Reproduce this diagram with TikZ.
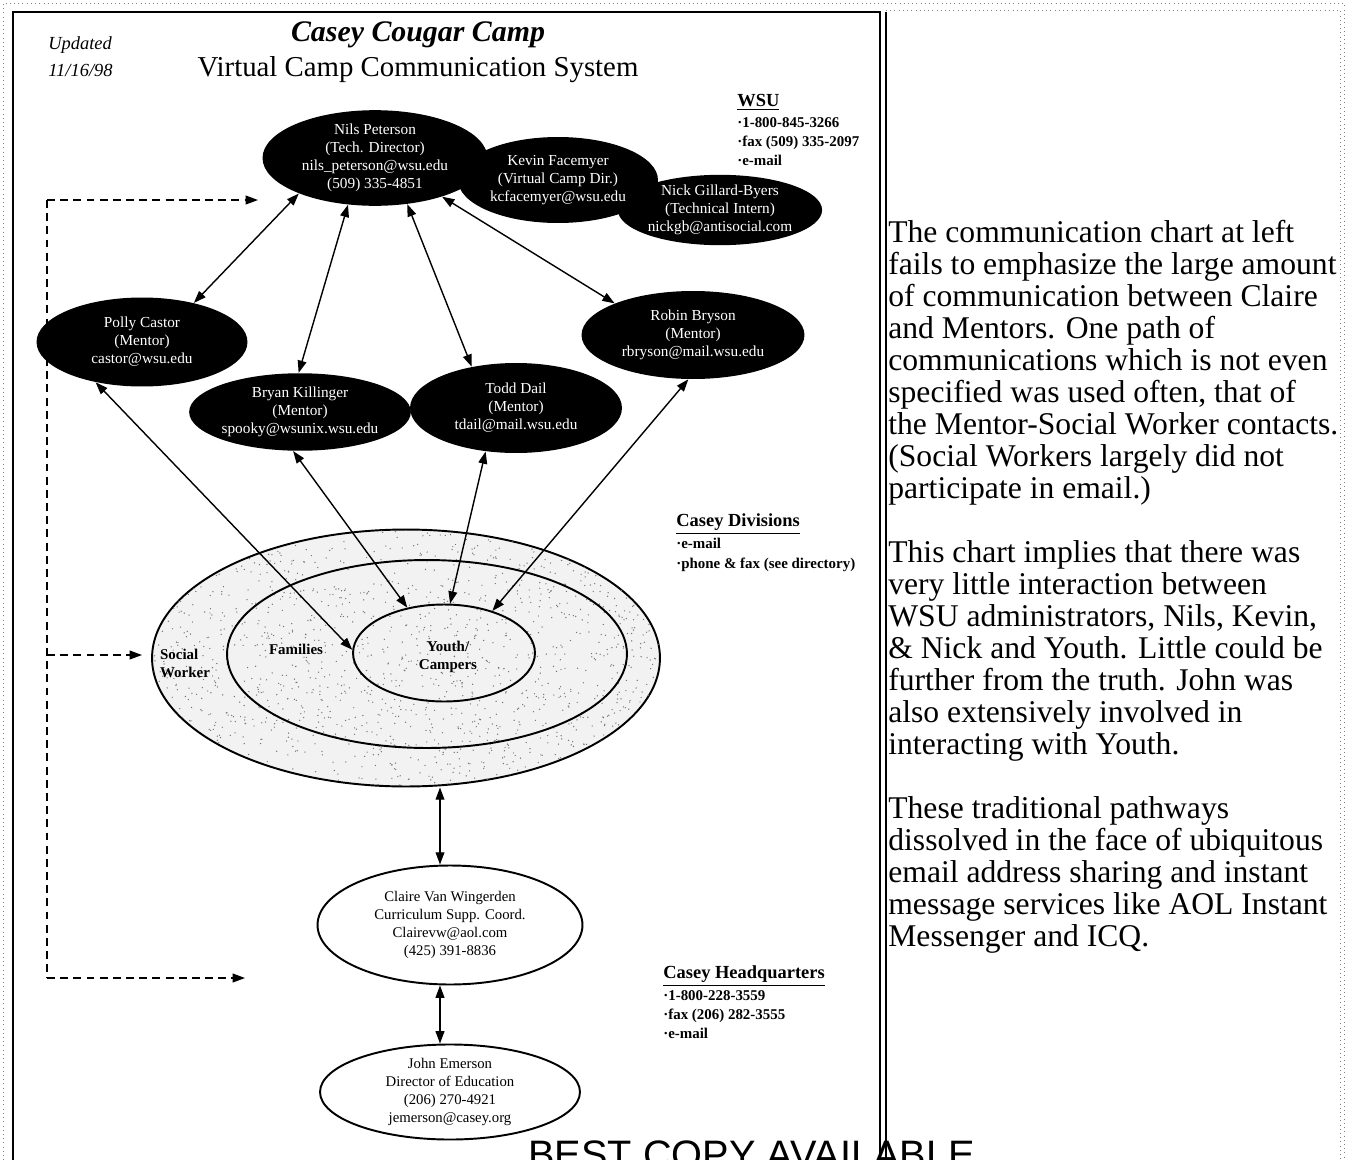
\documentclass[tikz,border=0pt]{standalone}
\usepackage{fontspec}
\setmainfont{Liberation Serif}
\newfontfamily\stampfont{Liberation Sans}
\usetikzlibrary{shapes.geometric,arrows.meta}

\begin{document}
\begin{tikzpicture}[x=0.02cm,y=-0.02cm,
  every node/.style={inner sep=0pt,align=center},
  staff/.style={ellipse,fill=black,text=white,font=\fontsize{8.7}{10.2}\selectfont},
  contact/.style={ellipse,draw,line width=1.1pt,fill=white,font=\fontsize{8.4}{10.2}\selectfont},
  ring/.style={ellipse,draw,line width=1.1pt},
  ringlabel/.style={font=\bfseries\fontsize{8.5}{10.2}\selectfont},
  link/.style={{Triangle[length=7pt,width=5pt]}-{Triangle[length=7pt,width=5pt]},line width=0.8pt},
  hint/.style={dashed,dash pattern=on 4.5pt off 3pt,line width=0.8pt,-{Triangle[length=7pt,width=5pt]}},
  head/.style={anchor=west,font=\bfseries\fontsize{10.5}{12}\selectfont},
  legend/.style={anchor=north west,align=left,font=\bfseries\fontsize{8.5}{11}\selectfont}]
  \clip (0,0) rectangle (1347,1160);
  \fill[white] (0,0) rectangle (1347,1160);

  % title
  \node[font=\bfseries\itshape\fontsize{17}{20}\selectfont] (camp) at (418,35) {Casey Cougar Camp};
  \node[font=\fontsize{16.4}{20}\selectfont] (system) at (418,70) {Virtual Camp Communication System};
  \node[anchor=west,align=left,font=\itshape\fontsize{10.5}{15.3}\selectfont] (updated) at (48,57) {Updated\\11/16/98};

  % WSU staff
  \node[staff,minimum width=3.8cm,minimum height=1.4cm] (nick) at (720,210) {Nick Gillard-Byers\\(Technical Intern)\\nickgb@antisocial.com};
  \node[staff,minimum width=4cm,minimum height=1.72cm] (kevin) at (558,180) {Kevin Facemyer\\(Virtual Camp Dir.)\\kcfacemyer@wsu.edu};
  \node[staff,minimum width=4.5cm,minimum height=1.7cm] (nils) at (375,158) {Nils Peterson\\(Tech. Director)\\nils\_peterson@wsu.edu\\(509) 335-4851};

  % mentors
  \node[staff,minimum width=4.22cm,minimum height=1.78cm] (polly) at (142,342) {Polly Castor\\(Mentor)\\castor@wsu.edu};
  \node[staff,minimum width=4.06cm,minimum height=1.55cm] (bryan) at (300,412) {Bryan Killinger\\(Mentor)\\spooky@wsunix.wsu.edu};
  \node[staff,minimum width=4.24cm,minimum height=1.8cm] (todd) at (516,408) {Todd Dail\\(Mentor)\\tdail@mail.wsu.edu};
  \node[staff,minimum width=4.46cm,minimum height=1.76cm] (robin) at (693,335) {Robin Bryson\\(Mentor)\\rbryson@mail.wsu.edu};

  % casey rings, speckled
  \node[ring,fill=black!5,minimum width=10.16cm,minimum height=5.14cm] (social) at (406,658) {};
  \begin{scope}
    \clip (social.center) ellipse [x radius=5.08cm,y radius=2.57cm];
    \pgfmathsetseed{11}
    \foreach \i in {1,...,1600}
      \fill[black!55] ({406+254*rand},{658+128*rand}) circle (0.7);
  \end{scope}
  \node[ring,minimum width=8cm,minimum height=3.76cm] (families) at (427,654) {};
  \node[ring,minimum width=3.64cm,minimum height=1.94cm] (youth) at (444,653) {};
  \node[ringlabel,align=left] (swlabel) at (185,663) {Social\\Worker};
  \node[ringlabel] (famlabel) at (296,649) {Families};
  \node[ringlabel] (ylabel) at (448,657) {Youth/\\Campers};

  % headquarters
  \node[contact,minimum width=5.3cm,minimum height=2.38cm] (claire) at (450,925) {Claire Van Wingerden\\Curriculum Supp. Coord.\\Clairevw@aol.com\\(425) 391-8836};
  \node[contact,minimum width=5.2cm,minimum height=1.9cm] (john) at (450,1092) {John Emerson\\Director of Education\\(206) 270-4921\\jemerson@casey.org};

  % links
  \draw[link] (nils.205) -- (polly.37);
  \draw[link] (nils.240) -- (bryan.92);
  \draw[link] (nils.305) -- (todd.137);
  \draw[link] (nils.330) -- (robin.158);
  \draw[link] (polly.221) -- (youth.178);
  \draw[link] (bryan.260) -- (youth.129);
  \draw[link] (todd.235) -- (youth.83);
  \draw[link] (robin.264) -- (youth.41);
  \draw[link] (social.south -| 440,0) -- (claire.north -| 440,0);
  \draw[link] (claire.south -| 440,0) -- (john.north -| 440,0);

  % dashed side line
  \coordinate (top) at (47,200);
  \coordinate (bot) at (47,978);
  \coordinate (nilsin) at (258,200);
  \coordinate (swin) at (142,655);
  \coordinate (johnin) at (245,978);
  \draw[dashed,dash pattern=on 4.5pt off 3pt,line width=0.8pt] (top) -- (bot);
  \draw[hint] (top) -- (nilsin);
  \draw[hint] (top |- swin) -- (swin);
  \draw[hint] (bot) -- (johnin);

  % contact lists
  \node[head] (wsuhead) at (737,102) {\underline{WSU}};
  \node[legend] (wsulist) at (737,117) {·1-800-845-3266\\·fax (509) 335-2097\\·e-mail};
  \node[head] (divhead) at (676,524) {\underline{Casey Divisions}};
  \node[legend] (divlist) at (676,538) {·e-mail\\·phone \& fax (see directory)};
  \node[head] (hqhead) at (663,976) {\underline{Casey Headquarters}};
  \node[legend] (hqlist) at (663,990) {·1-800-228-3559\\·fax (206) 282-3555\\·e-mail};

  % notes
  \node[anchor=north west,align=left,font=\fontsize{18}{18.2}\selectfont] (notes) at (888,220) {%
    The communication chart at left\\
    fails to emphasize the large amount\\
    of communication between Claire\\
    and Mentors. One path of\\
    communications which is not even\\
    specified was used often, that of\\
    the Mentor-Social Worker contacts.\\
    (Social Workers largely did not\\
    participate in email.)\\[18.2pt]
    This chart implies that there was\\
    very little interaction between\\
    WSU administrators, Nils, Kevin,\\
    \& Nick and Youth. Little could be\\
    further from the truth. John was\\
    also extensively involved in\\
    interacting with Youth.\\[18.2pt]
    These traditional pathways\\
    dissolved in the face of ubiquitous\\
    email address sharing and instant\\
    message services like AOL Instant\\
    Messenger and ICQ.};

  \node[anchor=base west,font=\stampfont\fontsize{22.6}{26}\selectfont] (stamp) at (528,1168) {BEST COPY AVAILABLE};

  % table frame
  \draw[gray,dotted] (3,1160) -- (3,3) -- (1344,3) -- (1344,1160);
  \draw[line width=1.2pt] (13,1160) -- (13,12) -- (880,12) -- (880,1160);
  \draw[semithick] (886,1160) -- (886,12);
  \draw[gray,dotted] (886,10) -- (1340,10) -- (1340,1160);
\end{tikzpicture}
\end{document}
